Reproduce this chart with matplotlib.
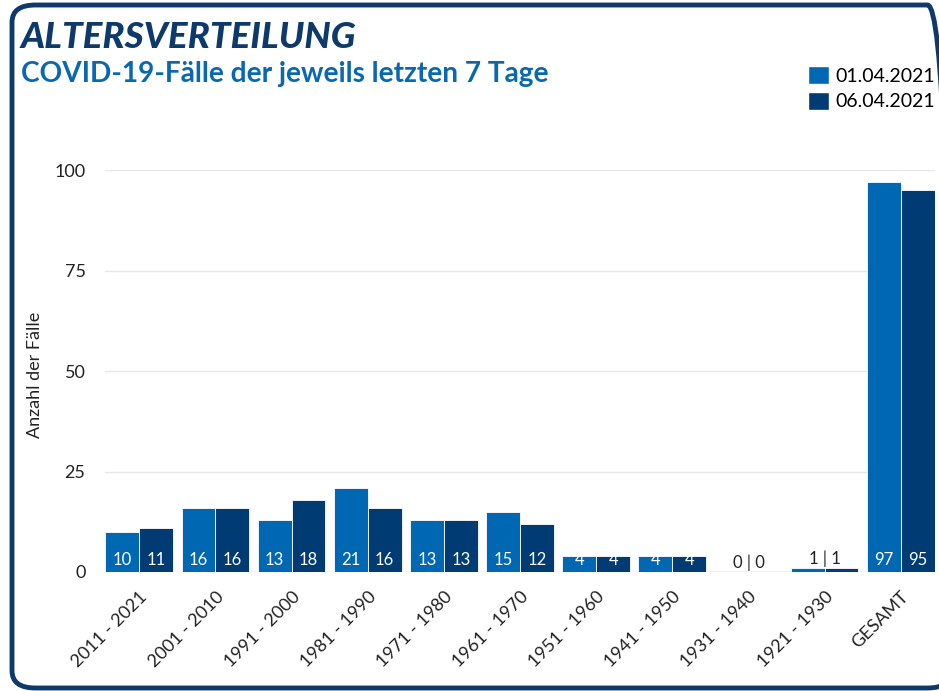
import numpy as np
import matplotlib
matplotlib.use('Agg')
import matplotlib.pyplot as plt
from matplotlib.patches import FancyBboxPatch, Patch

plt.rcParams['font.family'] = ['Lato', 'DejaVu Sans']

categories = ["2011 - 2021", "2001 - 2010", "1991 - 2000", "1981 - 1990", "1971 - 1980",
              "1961 - 1970", "1951 - 1960", "1941 - 1950", "1931 - 1940", "1921 - 1930", "GESAMT"]
vals_0104 = [10, 16, 13, 21, 13, 15, 4, 4, 0, 1, 97]
vals_0604 = [11, 16, 18, 16, 13, 12, 4, 4, 0, 1, 95]
series_labels = ["01.04.2021", "06.04.2021"]

LIGHT = "#0068b3"
DARK = "#003b73"
NAVY = "#0e3a6b"

fig = plt.figure(figsize=(9.39, 6.91), dpi=100)

# rounded frame, right side runs off the canvas
frame = FancyBboxPatch((12 / 939, 3 / 691), 1.0, 683 / 691,
                       boxstyle="round,pad=0,rounding_size=0.025",
                       transform=fig.transFigure, fill=False, edgecolor=NAVY, linewidth=3.5,
                       clip_on=False)
fig.patches.append(frame)

fig.text(21 / 939, 1 - 38 / 691, "ALTERSVERTEILUNG", fontsize=26.5, fontweight="black",
         style="italic", color=NAVY, va="center", ha="left")
fig.text(21 / 939, 1 - 74 / 691, "COVID-19-Fälle der jeweils letzten 7 Tage", fontsize=20.2,
         fontweight="bold", color="#0a68b0", va="center", ha="left")

ax = fig.add_axes([105 / 939, 1 - 572 / 691, 830 / 939, 402 / 691])
x = np.arange(len(categories))
w = 0.445
ax.bar(x - w / 2, vals_0104, width=w, color=LIGHT, edgecolor="white", linewidth=0.6, zorder=3)
ax.bar(x + w / 2, vals_0604, width=w, color=DARK, edgecolor="white", linewidth=0.6, zorder=3)

for i in range(len(categories)):
    a, b = vals_0104[i], vals_0604[i]
    if a >= 3 and b >= 3:
        ax.text(x[i] - w / 2, 1.0, str(a), ha="center", va="bottom", color="white", fontsize=12, zorder=4)
        ax.text(x[i] + w / 2, 1.0, str(b), ha="center", va="bottom", color="white", fontsize=12, zorder=4)
    else:
        ax.text(x[i], max(a, b) + 0.2, f"{a} | {b}", ha="center", va="bottom", color="#222222",
                fontsize=12, zorder=4)

ax.set_xlim(-0.45, len(categories) - 0.55)
ax.set_ylim(0, 100)
ax.set_yticks([0, 25, 50, 75, 100])
ax.set_xticks(x)
ax.set_xticklabels(categories, rotation=45, ha="right", rotation_mode="anchor", fontsize=13,
                   color="#222222")
ax.tick_params(axis="both", length=0, labelsize=13, colors="#222222")
ax.tick_params(axis="x", pad=12)
ax.tick_params(axis="y", pad=14)
ax.grid(axis="y", color="#e6e6e6", linewidth=0.9, zorder=0)
for s in ax.spines.values():
    s.set_visible(False)
ax.axhline(0, color="#cccccc", linewidth=1, zorder=2)
ax.set_ylabel("Anzahl der Fälle", fontsize=13, color="#222222")
ax.yaxis.set_label_coords(-62 / 830, 0.49)

handles = [Patch(facecolor=LIGHT, edgecolor="white"), Patch(facecolor=DARK, edgecolor="white")]
fig.legend(handles, series_labels, loc="upper left", bbox_to_anchor=(800 / 939, 1 - 58 / 691),
           frameon=False, fontsize=14, handlelength=1.1, handleheight=1.1, handletextpad=0.3,
           labelspacing=0.35, borderaxespad=0)

fig.savefig("out.png", dpi=100)
